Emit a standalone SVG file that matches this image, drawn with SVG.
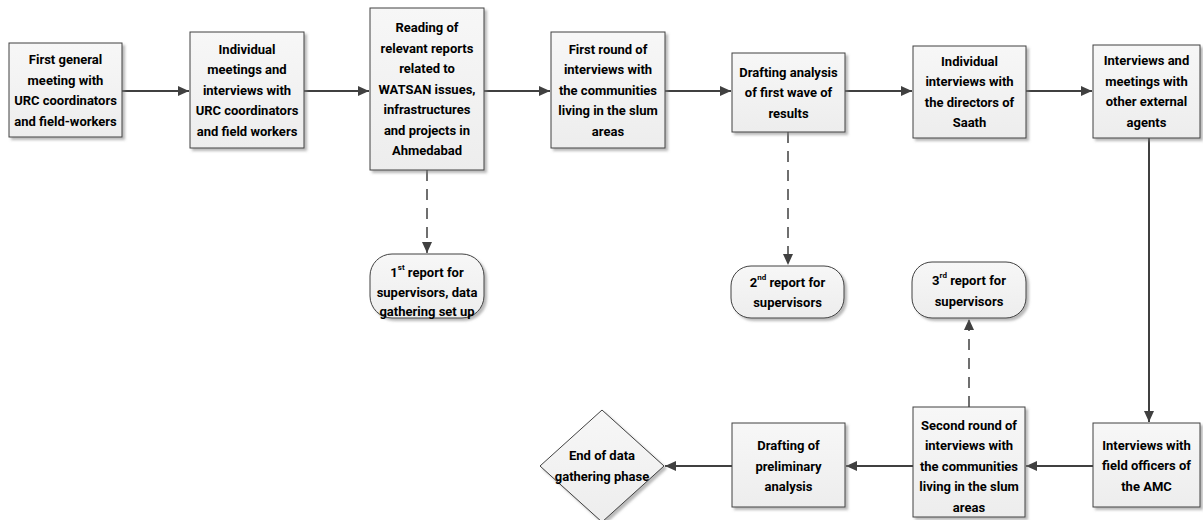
<svg xmlns="http://www.w3.org/2000/svg" width="1203" height="520" viewBox="0 0 1203 520">
<style>
.box{fill:url(#g);stroke:#404040;stroke-width:1;filter:url(#sh)}
text{font-family:Roboto,"Liberation Sans",sans-serif;font-weight:bold;font-size:13px;fill:#000;text-anchor:middle;dominant-baseline:central}
.sup{font-size:8px}
.c{fill:none;stroke:#404040;stroke-width:2}
.d{fill:none;stroke:#404040;stroke-width:1.5;stroke-dasharray:11 8}
</style>
<defs>
<linearGradient id="g" x1="0" y1="0" x2="0" y2="1"><stop offset="0" stop-color="#f7f7f7"/><stop offset="1" stop-color="#ededed"/></linearGradient>
<filter id="sh" x="-10%" y="-10%" width="130%" height="130%"><feDropShadow dx="2.5" dy="2.5" stdDeviation="1.2" flood-color="#808080" flood-opacity="0.55"/></filter>
<marker id="a" markerUnits="userSpaceOnUse" markerWidth="12" markerHeight="12" viewBox="0 0 12 12" refX="11" refY="6" orient="auto"><path d="M0,1 L11,6 L0,11 Z" fill="#404040"/></marker>
</defs>
<g id="connectors">
<line class="c" x1="122" y1="91" x2="189" y2="91" marker-end="url(#a)"/>
<line class="c" x1="304" y1="91" x2="369" y2="91" marker-end="url(#a)"/>
<line class="c" x1="484" y1="91" x2="550" y2="91" marker-end="url(#a)"/>
<line class="c" x1="665" y1="91" x2="731" y2="91" marker-end="url(#a)"/>
<line class="c" x1="845" y1="91" x2="912" y2="91" marker-end="url(#a)"/>
<line class="c" x1="1026" y1="91" x2="1092" y2="91" marker-end="url(#a)"/>
<line class="c" x1="1149" y1="138" x2="1149" y2="422" marker-end="url(#a)"/>
<line class="c" x1="1093" y1="466" x2="1026" y2="466" marker-end="url(#a)"/>
<line class="c" x1="913" y1="466" x2="846" y2="466" marker-end="url(#a)"/>
<line class="c" x1="732" y1="466" x2="665" y2="466" marker-end="url(#a)"/>
<line class="d" x1="427" y1="170" x2="427" y2="253" marker-end="url(#a)"/>
<line class="d" x1="788" y1="132" x2="788" y2="265" marker-end="url(#a)"/>
<line class="d" x1="969" y1="407" x2="969" y2="319" marker-end="url(#a)"/>
</g>
<g id="n1"><rect class="box" x="9" y="43" width="113" height="94"/>
<text x="65.5" y="59.5">First general</text><text x="65.5" y="80">meeting with</text><text x="65.5" y="100.5">URC coordinators</text><text x="65.5" y="121">and field-workers</text></g>
<g id="n2"><rect class="box" x="190" y="32" width="114" height="116"/>
<text x="247" y="49">Individual</text><text x="247" y="69.5">meetings and</text><text x="247" y="90">interviews with</text><text x="247" y="110.5">URC coordinators</text><text x="247" y="131">and field workers</text></g>
<g id="n3"><rect class="box" x="370" y="8" width="114" height="162"/>
<text x="427" y="27.5">Reading of</text><text x="427" y="48">relevant reports</text><text x="427" y="68.5">related to</text><text x="427" y="89">WATSAN issues,</text><text x="427" y="109.5">infrastructures</text><text x="427" y="130">and projects in</text><text x="427" y="150.5">Ahmedabad</text></g>
<g id="n4"><rect class="box" x="551" y="32" width="114" height="116"/>
<text x="608" y="49">First round of</text><text x="608" y="69.5">interviews with</text><text x="608" y="90">the communities</text><text x="608" y="110.5">living in the slum</text><text x="608" y="131">areas</text></g>
<g id="n5"><rect class="box" x="732" y="53" width="113" height="79"/>
<text x="788.5" y="72">Drafting analysis</text><text x="788.5" y="92.5">of first wave of</text><text x="788.5" y="113">results</text></g>
<g id="n6"><rect class="box" x="913" y="46" width="113" height="92"/>
<text x="969.5" y="61">Individual</text><text x="969.5" y="81.5">interviews with</text><text x="969.5" y="102">the directors of</text><text x="969.5" y="122.5">Saath</text></g>
<g id="n7"><rect class="box" x="1093" y="45" width="107" height="93"/>
<text x="1146.5" y="60.5">Interviews and</text><text x="1146.5" y="81">meetings with</text><text x="1146.5" y="101.5">other external</text><text x="1146.5" y="122">agents</text></g>
<g id="r1"><rect class="box" x="370" y="254" width="114" height="64" rx="22" ry="22"/>
<text x="427" y="272">1<tspan class="sup" dy="-5">st</tspan><tspan dy="5"> report for</tspan></text><text x="427" y="292">supervisors, data</text><text x="427" y="311">gathering set up</text></g>
<g id="r2"><rect class="box" x="731" y="266" width="113" height="52" rx="20" ry="20"/>
<text x="787.5" y="282">2<tspan class="sup" dy="-5">nd</tspan><tspan dy="5"> report for</tspan></text><text x="787.5" y="302">supervisors</text></g>
<g id="r3"><rect class="box" x="912" y="262" width="114" height="56" rx="20" ry="20"/>
<text x="969" y="280">3<tspan class="sup" dy="-5">rd</tspan><tspan dy="5"> report for</tspan></text><text x="969" y="301">supervisors</text></g>
<g id="n8"><rect class="box" x="1093" y="423" width="107" height="84"/>
<text x="1146.5" y="445">Interviews with</text><text x="1146.5" y="465.5">field officers of</text><text x="1146.5" y="486">the AMC</text></g>
<g id="n9"><rect class="box" x="913" y="407" width="112" height="110"/>
<text x="969" y="425">Second round of</text><text x="969" y="445.5">interviews with</text><text x="969" y="466">the communities</text><text x="969" y="486.5">living in the slum</text><text x="969" y="507">areas</text></g>
<g id="n10"><rect class="box" x="732" y="423" width="113" height="84"/>
<text x="788.5" y="445.5">Drafting of</text><text x="788.5" y="466">preliminary</text><text x="788.5" y="486.5">analysis</text></g>
<g id="n11"><polygon class="box" points="602,410 664,466 602,522 540,466"/>
<text x="602" y="455">End of data</text><text x="602" y="476">gathering phase</text></g>
</svg>
